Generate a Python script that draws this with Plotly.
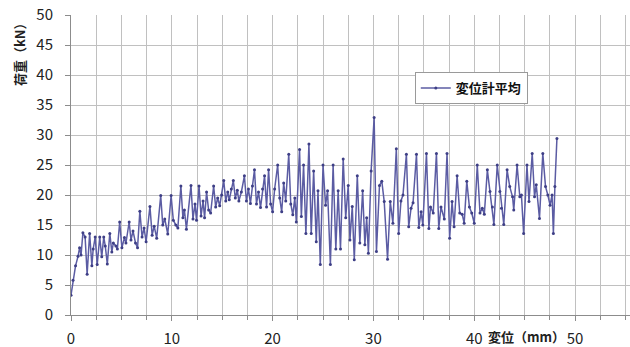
import plotly.graph_objects as go

# Load-displacement record (average of displacement gauges)
disp_mm = [
    0.00, 0.20, 0.45, 0.70, 0.85, 1.00, 1.18, 1.40, 1.60, 1.85,
    2.07, 2.20, 2.40, 2.60, 2.85, 3.05, 3.25, 3.40, 3.60, 3.85,
    4.05, 4.20, 4.45, 4.60, 4.83, 5.05, 5.30, 5.45, 5.77, 5.95,
    6.15, 6.40, 6.60, 6.83, 7.05, 7.25, 7.45, 7.83, 8.05, 8.25,
    8.50, 8.90, 9.10, 9.30, 9.60, 9.93, 10.15, 10.40, 10.60, 10.90,
    11.10, 11.25, 11.45, 11.90, 12.10, 12.30, 12.45, 12.70, 12.90, 13.10,
    13.25, 13.45, 13.65, 13.85, 14.15, 14.35, 14.55, 14.75, 14.95, 15.15,
    15.35, 15.55, 15.70, 15.90, 16.10, 16.30, 16.50, 16.65, 16.90, 17.20,
    17.40, 17.60, 17.80, 18.00, 18.20, 18.40, 18.60, 18.80, 19.00, 19.20,
    19.40, 19.60, 19.80, 20.00, 20.20, 20.50, 20.70, 20.90, 21.10, 21.30,
    21.60, 21.80, 22.00, 22.20, 22.35, 22.67, 22.85, 23.07, 23.30, 23.60,
    23.83, 24.07, 24.33, 24.50, 24.73, 25.00, 25.25, 25.45, 25.73, 26.00,
    26.27, 26.50, 26.73, 27.00, 27.25, 27.50, 27.67, 27.90, 28.10, 28.40,
    28.65, 28.93, 29.15, 29.33, 29.50, 29.77, 30.07, 30.30, 30.60, 30.83,
    31.07, 31.40, 31.67, 31.93, 32.27, 32.50, 32.73, 32.93, 33.27, 33.50,
    33.73, 33.93, 34.27, 34.50, 34.73, 34.90, 35.26, 35.50, 35.66, 35.93,
    36.25, 36.48, 36.70, 37.03, 37.30, 37.56, 37.80, 38.00, 38.30, 38.56,
    38.80, 39.00, 39.26, 39.52, 39.75, 40.00, 40.30, 40.57, 40.80, 41.00,
    41.30, 41.56, 41.80, 41.95, 42.28, 42.54, 42.70, 42.93, 43.26, 43.52,
    43.80, 43.92, 44.25, 44.52, 44.68, 44.90, 45.23, 45.43, 45.75, 45.98,
    46.15, 46.47, 46.80, 47.07, 47.30, 47.52, 47.72, 47.85, 48.00, 48.20,
]

load_kn = [
    3.3, 5.8, 8.2, 9.8, 11.2, 10.0, 13.7, 13.0, 6.8, 13.6,
    8.2, 11.0, 13.0, 8.4, 13.0, 9.7, 13.0, 11.5, 8.5, 13.6,
    10.5, 12.0, 11.5, 11.0, 15.5, 11.2, 12.9, 12.0, 15.5, 12.5,
    14.0, 12.0, 11.2, 17.3, 13.0, 14.5, 12.2, 18.1, 13.3, 14.8,
    12.8, 19.9, 15.0, 16.0, 13.5, 19.9, 15.8, 15.0, 14.5, 21.5,
    16.2, 17.5, 14.3, 21.6, 16.0, 18.5, 15.8, 21.5, 16.5, 19.0,
    16.2, 20.5, 17.5, 17.0, 21.5, 18.0, 19.5, 18.2, 20.0, 22.4,
    19.0, 20.5, 19.2, 21.0, 22.4, 19.5, 20.8, 19.0, 20.5, 23.2,
    19.0, 21.0, 18.6, 21.5, 24.2, 18.5, 20.5, 17.9, 21.0, 23.2,
    18.0, 24.2, 18.5, 17.2, 21.0, 25.0, 19.5, 17.2, 22.0, 19.0,
    26.8, 18.5, 16.7, 19.5, 15.5, 27.6, 16.4, 25.0, 13.6, 28.5,
    13.6, 24.0, 12.2, 20.7, 8.4, 25.0, 18.3, 20.7, 8.4, 25.0,
    11.0, 20.7, 11.0, 26.0, 16.2, 21.6, 12.5, 18.1, 9.2, 23.2,
    12.0, 20.7, 11.7, 16.2, 10.3, 24.0, 32.9, 10.6, 21.6, 22.3,
    18.9, 9.3, 18.9, 15.3, 27.7, 13.6, 19.0, 20.0, 26.8, 14.7,
    17.8, 18.7, 26.8, 14.6, 17.2, 15.0, 26.9, 14.4, 18.0, 17.0,
    26.9, 14.4, 18.0, 16.0, 26.9, 12.8, 18.9, 14.7, 23.2, 17.0,
    16.8, 15.3, 22.3, 18.0, 17.0, 15.3, 25.0, 17.0, 17.8, 16.8,
    24.2, 20.6, 18.0, 15.1, 25.0, 20.6, 17.8, 15.1, 24.2, 21.4,
    19.7, 17.5, 25.0, 19.7, 20.0, 13.6, 25.0, 18.9, 26.9, 19.7,
    21.7, 16.1, 26.9, 21.4, 20.0, 18.3, 20.0, 13.6, 21.4, 29.4,
]

series_name = "変位計平均"
x_title = "変位（mm）"
y_title = "荷重（kN）"

jp_font = "Noto Sans CJK JP"
line_color = "#5b5ca3"
grid_color = "#c0c0c0"
axis_color = "#8c8c8c"

fig = go.Figure()
fig.add_trace(go.Scatter(
    x=disp_mm,
    y=load_kn,
    mode="lines+markers",
    name="<b>" + series_name + "</b>",
    line=dict(color=line_color, width=1.5),
    marker=dict(symbol="circle", size=3, color="#3e3f86"),
))

fig.update_layout(
    width=630,
    height=347,
    margin=dict(l=71, r=0, t=15, b=32),
    paper_bgcolor="white",
    plot_bgcolor="white",
    font=dict(family=jp_font, size=14, color="#222222"),
    showlegend=True,
    legend=dict(
        x=0.615, y=0.81, xanchor="left", yanchor="top",
        bgcolor="white", bordercolor="#9a9a9a", borderwidth=1,
        font=dict(family=jp_font, size=13, color="#111111"),
        itemwidth=30,
    ),
    xaxis=dict(
        range=[0, 55.45],
        dtick=10,
        tick0=0,
        automargin=False,
        showgrid=True,
        gridcolor=grid_color,
        gridwidth=1,
        minor=dict(dtick=2.5, showgrid=True, gridcolor=grid_color, gridwidth=1,
                   ticks="outside", ticklen=4, tickcolor=axis_color),
        showline=True,
        linecolor=axis_color,
        linewidth=1,
        ticks="outside",
        ticklen=5,
        tickcolor=axis_color,
        zeroline=False,
        ticklabelstandoff=5,
        tickvals=[0, 10, 20, 30, 40, 50],
        tickfont=dict(size=15),
    ),
    yaxis=dict(
        range=[0, 50],
        dtick=5,
        tick0=0,
        automargin=False,
        showgrid=True,
        gridcolor=grid_color,
        gridwidth=1,
        showline=True,
        linecolor=axis_color,
        linewidth=1,
        ticks="outside",
        ticklen=5,
        tickcolor=axis_color,
        zeroline=False,
        ticklabelstandoff=9,
        tickfont=dict(size=15),
    ),
    annotations=[
        dict(
            text="<b>" + x_title + "</b>",
            xref="x", yref="paper",
            x=45.2, y=-0.07,
            xanchor="center", yanchor="middle",
            showarrow=False,
            font=dict(family=jp_font, size=13, color="#222222"),
        ),
        dict(
            text="<b>" + y_title + "</b>",
            xref="paper", yref="paper",
            x=-0.093, y=0.88,
            xanchor="center", yanchor="middle",
            textangle=-90,
            showarrow=False,
            font=dict(family=jp_font, size=13, color="#222222"),
        ),
    ],
)

fig.write_html("out.html")
